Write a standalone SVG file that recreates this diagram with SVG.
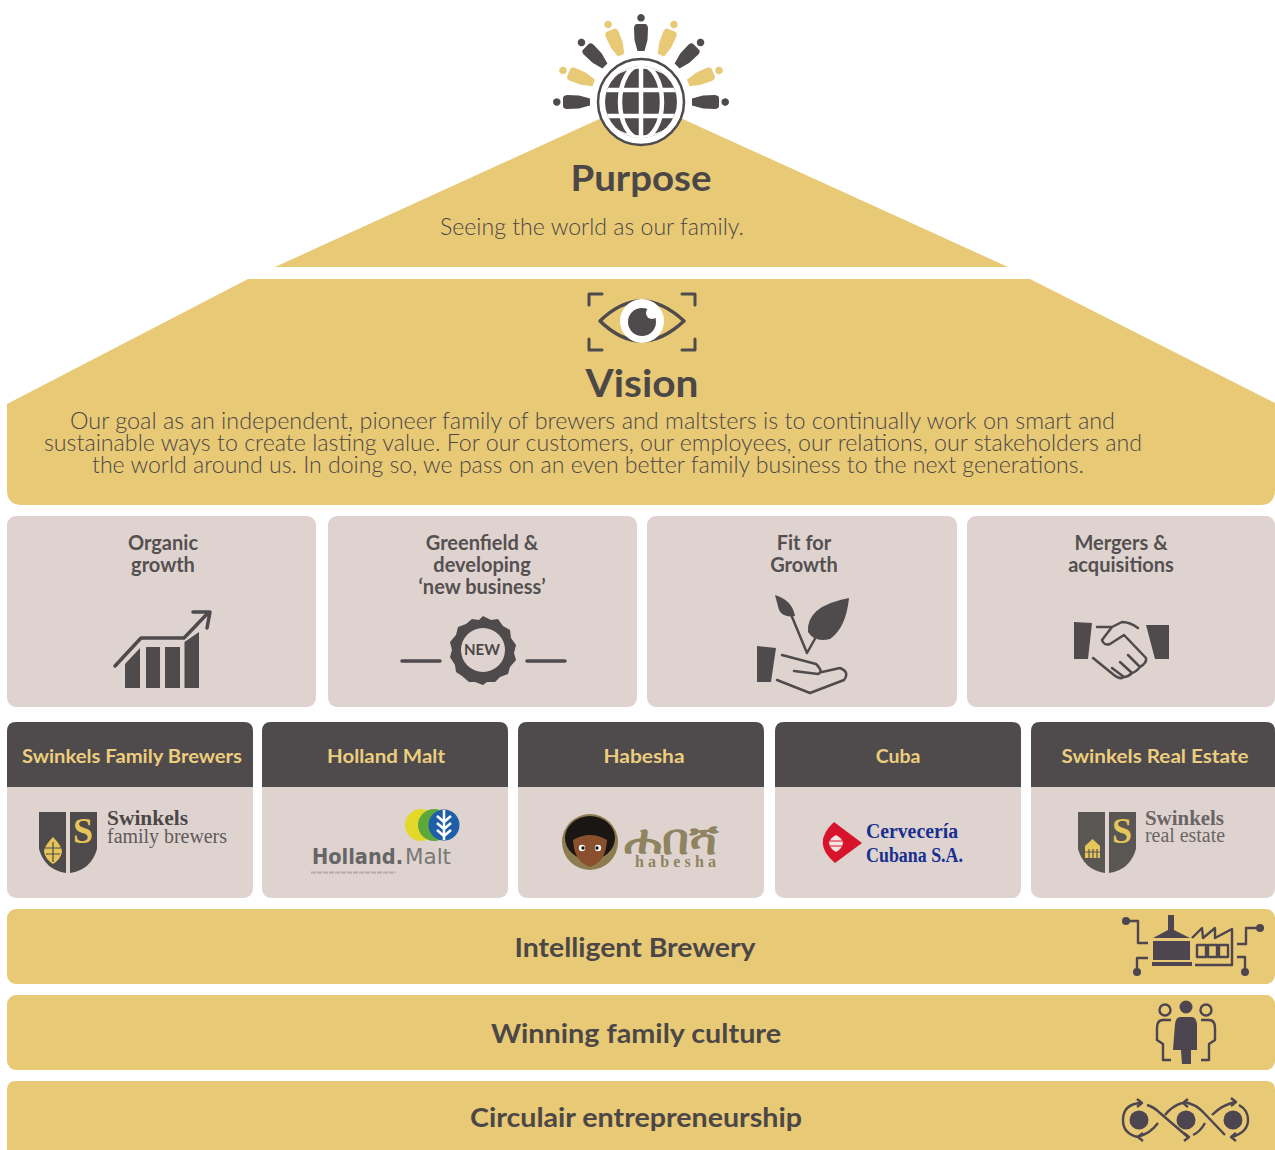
<svg xmlns="http://www.w3.org/2000/svg" width="1275" height="1150" viewBox="0 0 1275 1150">
<style>
text{font-family:"Lato","Liberation Sans",sans-serif;fill:#4c4747}
.gold{fill:#e8c976}.panel{fill:#dfd3d0}.dark{fill:#4f4a4c}
.t{text-anchor:middle;font-weight:700}
.lab{font-size:20px;font-weight:700;text-anchor:middle;fill:#555050}
.hd{font-size:19.5px;font-weight:700;fill:#ecce7e;text-anchor:middle}
.bar{font-size:27px;font-weight:700;text-anchor:middle}
.para{font-size:23px;font-weight:300}
.s{fill:none;stroke:#4f4a4c;stroke-width:3;stroke-linecap:round;stroke-linejoin:round}
.ib{fill:none;stroke:#4d4550;stroke-width:2.4;stroke-linejoin:round}
.idk{fill:#4d4550}
.ser{font-family:"Liberation Serif",serif;font-size:20px}
.bigS{font-family:"Liberation Serif",serif;font-size:36px;font-weight:700;fill:#e6c65a;text-anchor:middle}
</style>
<defs>
<path id="p" d="M0-88a3.800 3.800 0 1 1-.01 0ZM-4-78H4Q6.500-78 7-74L6.500-62 3.500-51H-3.500L-6.500-62-7-74Q-6.500-78-4-78Z"/>
<clipPath id="gc"><circle cx="641" cy="102" r="36"/></clipPath>
<g id="shield"><path d="M0 0H27V61Q6 58 0 37Z"/><path d="M31 0H58V37Q52 58 31 61Z"/></g>
</defs>
<rect width="1275" height="1150" fill="#fff"/>

<g id="purpose">
<path class="gold" d="M641 100L1008 267H275Z"/>
<g id="people" transform="translate(641 102)">
<use href="#p" class="dark"/><use href="#p" class="dark" transform="rotate(-45)"/><use href="#p" class="dark" transform="rotate(45)"/><use href="#p" class="dark" transform="rotate(-90)"/><use href="#p" class="dark" transform="rotate(90)"/>
<use href="#p" class="gold" transform="rotate(-23)"/><use href="#p" class="gold" transform="rotate(23)"/><use href="#p" class="gold" transform="rotate(-68)"/><use href="#p" class="gold" transform="rotate(68)"/>
</g>
<circle cx="641" cy="102" r="43" fill="#fff" stroke="#4f4a4c" stroke-width="2.500"/>
<circle class="dark" cx="641" cy="102" r="36"/>
<g clip-path="url(#gc)" fill="none" stroke="#fff" stroke-width="4.500">
<path d="M641 60V144M600 90H682M600 116H682"/><ellipse cx="641" cy="102" rx="21" ry="37"/>
<path d="M608 78Q641 56 674 78M608 126Q641 148 674 126" stroke-width="3"/>
</g>
<text class="t" x="641" y="191" font-size="36" textLength="141" lengthAdjust="spacingAndGlyphs">Purpose</text>
<text x="440" y="235" font-size="23" font-weight="300" textLength="304" lengthAdjust="spacingAndGlyphs">Seeing the world as our family.</text>
</g>

<g id="vision">
<path class="gold" d="M248 279H1030L1275 403V490Q1275 505 1260 505H22Q7 505 7 490V404Z"/>
<g class="s">
<path d="M589 305V294H602M682 294H695V305M589 339V350H602M682 350H695V339"/>
<path style="stroke-width:3.500" d="M600 321Q641 281 684 321Q641 361 600 321Z"/>
</g>
<circle cx="642" cy="321" r="22" fill="#fff"/>
<circle class="dark" cx="642" cy="322" r="14"/>
<circle cx="652" cy="313" r="6" fill="#fff"/>
<text class="t" x="642" y="397" font-size="38" textLength="113" lengthAdjust="spacingAndGlyphs">Vision</text>
<text class="para" x="70" y="429" textLength="1045" lengthAdjust="spacingAndGlyphs">Our goal as an independent, pioneer family of brewers and maltsters is to continually work on smart and</text>
<text class="para" x="44" y="451" textLength="1098" lengthAdjust="spacingAndGlyphs">sustainable ways to create lasting value. For our customers, our employees, our relations, our stakeholders and</text>
<text class="para" x="92" y="473" textLength="992" lengthAdjust="spacingAndGlyphs">the world around us. In doing so, we pass on an even better family business to the next generations.</text>
</g>

<g id="organic-growth">
<rect class="panel" x="7" y="516" width="309" height="191" rx="9"/>
<text class="lab" x="163" y="550">Organic</text><text class="lab" x="163" y="572">growth</text>
<path class="dark" d="M125 664L140 648V688H125ZM146 647H160V688H146ZM165 647H180V688H165ZM184.500 642L199 632V688H184.500Z"/>
<path class="s" style="stroke-width:3.500" d="M115 666L141 638H184L208 613M193 612H210L207 628"/>
</g>
<g id="greenfield">
<rect class="panel" x="328" y="516" width="309" height="191" rx="9"/>
<text class="lab" x="482" y="550">Greenfield &amp;</text><text class="lab" x="482" y="572">developing</text><text class="lab" x="482" y="594">‘new business’</text>
<path class="dark" d="M483 616L491 620 498 619 503 626 510 630 511 638 516 645 514 653 516 660 510 667 508 674 500 677 495 682 487 682 483 685 475 682 469 682 462 676 456 672 455 665 450 657 452 650 450 642 456 635 458 627 466 624 472 619 479 620Z"/>
<circle class="panel" cx="483" cy="650" r="22"/>
<text x="482" y="655" text-anchor="middle" font-size="15" font-weight="700">NEW</text>
<path class="s" style="stroke-width:3.500" d="M402 661H440M527 661H565"/>
</g>
<g id="fit-for-growth">
<rect class="panel" x="647" y="516" width="310" height="191" rx="9"/>
<text class="lab" x="804" y="550">Fit for</text><text class="lab" x="804" y="572">Growth</text>
<path class="dark" d="M775 595Q792 600 795 616Q783 618 779 610ZM849 598Q846 628 830 639Q815 643 808 632Q806 606 849 598Z"/>
<path class="dark" d="M757 646L776 648 771 682H757Z"/>
<path class="s" style="stroke-width:2.500" d="M790 612L807 653M821 628L807 653M782 655L816 664Q824 672 818 674L794 671M822 672L840 668Q850 672 844 680L810 693 777 680"/>
</g>
<g id="mergers">
<rect class="panel" x="967" y="516" width="308" height="191" rx="9"/>
<text class="lab" x="1121" y="550">Mergers &amp;</text><text class="lab" x="1121" y="572">acquisitions</text>
<path class="dark" d="M1074 622L1092 623 1088 659H1074ZM1146 625L1169 625V659H1155Z"/>
<path class="s" style="stroke-width:2.500" d="M1097 627H1112L1122 622Q1130 622 1138 628M1112 627L1102 640Q1104 646 1110 644L1124 635 1146 658Q1147 663 1140 667L1128 655M1140 667Q1136 672 1132 673L1120 662M1132 673Q1128 677 1124 677L1112 668M1124 677Q1120 680 1114 675L1093 658"/>
</g>

<g id="swinkels-family-brewers">
<rect class="panel" x="7" y="722" width="246" height="176" rx="9"/>
<path class="dark" d="M16 722H244Q253 722 253 731V787H7V731Q7 722 16 722Z"/>
<text class="hd" x="132" y="763" textLength="220" lengthAdjust="spacingAndGlyphs">Swinkels Family Brewers</text>
<use href="#shield" x="39" y="812" class="dark"/>
<text class="bigS" x="83" y="843">S</text>
<path d="M53 837Q62 846 62 852 60 860 53 864 46 860 44 852 44 846 53 837Z" fill="#e6c65a"/>
<path d="M45 848H61M46 854H60M53 842V862" stroke="#4f4a4c" stroke-width="1.200"/>
<text class="ser" x="107" y="825" font-weight="700" textLength="81" lengthAdjust="spacingAndGlyphs">Swinkels</text>
<text class="ser" x="107" y="843" textLength="120" lengthAdjust="spacingAndGlyphs" style="fill:#5f5a5a">family brewers</text>
</g>
<g id="holland-malt">
<rect class="panel" x="262" y="722" width="246" height="176" rx="9"/>
<path class="dark" d="M271 722H499Q508 722 508 731V787H262V731Q262 722 271 722Z"/>
<text class="hd" x="386" y="763" textLength="118" lengthAdjust="spacingAndGlyphs">Holland Malt</text>
<circle cx="421" cy="825" r="16" fill="#e3d92a"/><circle cx="434" cy="825" r="16" fill="#5da83a"/><circle cx="444" cy="825" r="15.500" fill="#1f5ea8"/>
<path d="M444 810V840M437 816L444 822 451 816M437 823L444 829 451 823M437 830L444 836 451 830" fill="none" stroke="#fff" stroke-width="2.500"/>
<text x="312" y="864" style="font-family:'DejaVu Sans',sans-serif;fill:#666;font-size:21px;font-weight:700" textLength="91" lengthAdjust="spacingAndGlyphs">Holland.</text>
<text x="405" y="864" style="font-family:'DejaVu Sans',sans-serif;fill:#777;font-size:21px" textLength="46" lengthAdjust="spacingAndGlyphs">Malt</text>
<path d="M311 872.500H396" stroke="#b3aaaa" stroke-width="2" stroke-dasharray="5 1"/>
</g>
<g id="habesha">
<rect class="panel" x="518" y="722" width="246" height="176" rx="9"/>
<path class="dark" d="M527 722H755Q764 722 764 731V787H518V731Q518 722 527 722Z"/>
<text class="hd" x="644" y="763" textLength="81" lengthAdjust="spacingAndGlyphs">Habesha</text>
<ellipse cx="590" cy="842" rx="28" ry="28" fill="#8c7c4f"/>
<ellipse cx="590" cy="838" rx="25" ry="22" fill="#1a1614"/>
<path d="M573 840Q590 830 607 840Q606 862 590 867Q574 862 573 840Z" fill="#8a4f2c"/>
<circle cx="582" cy="848" r="3.200" fill="#fff"/><circle cx="598" cy="848" r="3.200" fill="#fff"/><circle cx="583" cy="848" r="1.700" fill="#111"/><circle cx="597" cy="848" r="1.700" fill="#111"/>
<text x="624" y="854" style="font-family:'Noto Sans','DejaVu Sans',sans-serif;fill:#8f8360;font-size:42px;font-weight:700" textLength="94" lengthAdjust="spacingAndGlyphs">ሐበሻ</text>
<text x="635" y="867" style="font-family:'Liberation Serif',serif;fill:#8f8360;font-size:16px;font-weight:700" textLength="81" lengthAdjust="spacing">habesha</text>
</g>
<g id="cuba">
<rect class="panel" x="775" y="722" width="246" height="176" rx="9"/>
<path class="dark" d="M784 722H1012Q1021 722 1021 731V787H775V731Q775 722 784 722Z"/>
<text class="hd" x="898" y="763">Cuba</text>
<path d="M834 822L862 843 835 863Q811 843 834 822Z" fill="#d8142c"/>
<path d="M836 835Q842 838 843 843 842 849 836 852 830 849 829 843 830 838 836 835Z" fill="#f6e4e4"/>
<path d="M830 841H842M830 846H842" stroke="#d8142c" stroke-width="1"/>
<text x="866" y="838" style="font-family:'Liberation Serif',serif;font-size:20px;font-weight:700;fill:#17308f" textLength="92" lengthAdjust="spacingAndGlyphs">Cervecería</text>
<text x="866" y="862" style="font-family:'Liberation Serif',serif;font-size:20px;font-weight:700;fill:#17308f" textLength="97" lengthAdjust="spacingAndGlyphs">Cubana S.A.</text>
</g>
<g id="swinkels-real-estate">
<rect class="panel" x="1031" y="722" width="244" height="176" rx="9"/>
<path class="dark" d="M1040 722H1266Q1275 722 1275 731V787H1031V731Q1031 722 1040 722Z"/>
<text class="hd" x="1155" y="763" textLength="187" lengthAdjust="spacingAndGlyphs">Swinkels Real Estate</text>
<use href="#shield" x="1078" y="812" fill="#5a5654"/>
<text class="bigS" x="1122" y="843">S</text>
<path d="M1085 846L1092.500 839 1100 846V858H1085Z" fill="#e6c65a"/>
<path d="M1089 849V858M1093 849V858M1097 849V858M1085 852H1100" stroke="#5a5654" stroke-width="1.200"/>
<text class="ser" x="1145" y="825" font-weight="700" textLength="79" lengthAdjust="spacingAndGlyphs" style="fill:#6a6565">Swinkels</text>
<text class="ser" x="1145" y="842" textLength="80" lengthAdjust="spacingAndGlyphs" style="fill:#6a6565">real estate</text>
</g>

<g id="intelligent-brewery">
<rect class="gold" x="7" y="909" width="1268" height="75" rx="9"/>
<text class="bar" x="635" y="957" textLength="241" lengthAdjust="spacingAndGlyphs">Intelligent Brewery</text>
<g class="ib">
<path d="M1127 921H1138V943H1148M1148 958H1137V970M1237 944H1246V928H1259M1237 957H1245V970"/>
<path d="M1192 938L1202 928 1203 938 1215 928V938L1232 929V965H1195"/>
<rect x="1197" y="945" width="9" height="12"/><rect x="1208" y="945" width="9" height="12"/><rect x="1219" y="945" width="9" height="12"/>
</g>
<circle class="idk" cx="1126" cy="921" r="4"/><circle class="idk" cx="1137" cy="972" r="4"/><circle class="idk" cx="1260" cy="928" r="4"/><circle class="idk" cx="1245" cy="972" r="4"/>
<path class="idk" d="M1168 915H1174V930L1190 938H1153L1168 930ZM1153 941H1190V960H1153ZM1152 962H1192V966H1152Z"/>
</g>
<g id="winning-family-culture">
<rect class="gold" x="7" y="995" width="1268" height="75" rx="9"/>
<text class="bar" x="636" y="1043" textLength="290" lengthAdjust="spacingAndGlyphs">Winning family culture</text>
<circle class="idk" cx="1186" cy="1007" r="6.500"/>
<path class="idk" d="M1180 1017H1192Q1196 1017 1197 1024L1197 1050 1191 1050 1191 1064H1182L1181 1050 1173 1050 1175 1024Q1176 1017 1180 1017Z"/>
<g class="ib"><circle cx="1165" cy="1010" r="5.500"/><circle cx="1206" cy="1010" r="5.500"/>
<path d="M1171 1020H1163Q1157 1020 1157 1028V1040L1163 1044V1060H1171M1201 1020H1209Q1215 1020 1215 1028V1040L1209 1044V1060H1201"/></g>
</g>
<g id="circulair-entrepreneurship">
<path class="gold" d="M16 1081H1266Q1275 1081 1275 1090V1150H7V1090Q7 1081 16 1081Z"/>
<text class="bar" x="636" y="1127" textLength="332" lengthAdjust="spacingAndGlyphs">Circulair entrepreneurship</text>
<circle class="idk" cx="1139" cy="1120" r="9.500"/><circle class="idk" cx="1186" cy="1120" r="9.500"/><circle class="idk" cx="1233" cy="1120" r="9.500"/>
<g class="ib">
<path d="M1141 1103Q1123 1104 1123 1120 1123 1134 1138 1137M1147 1105Q1154 1107 1160 1113L1188 1137M1137 1137Q1150 1134 1158 1123M1165 1115Q1172 1106 1182 1103M1184 1102Q1196 1104 1204 1113L1225 1135M1193 1135Q1200 1132 1205 1123M1212 1115Q1222 1105 1235 1102M1239 1105Q1248 1110 1248 1120 1248 1132 1232 1137"/>
<path d="M1137 1099L1142 1103 1137 1107M1143 1133L1138 1137 1143 1141M1184 1133L1189 1137 1184 1141M1188 1099L1183 1103 1188 1107M1231 1098L1236 1102 1231 1106M1236 1133L1231 1137 1236 1141"/>
</g>
</g>
</svg>
